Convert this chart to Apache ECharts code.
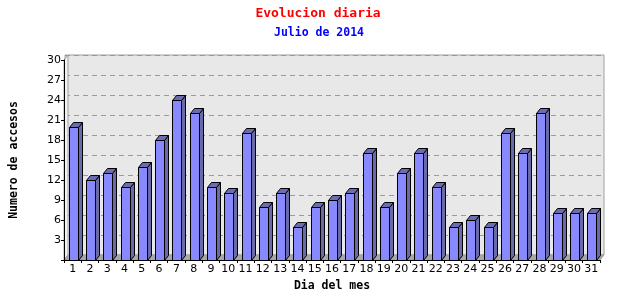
<!DOCTYPE html>
<html>
<head>
<meta charset="utf-8">
<script src="https://cdn.jsdelivr.net/npm/echarts@6/dist/echarts.min.js"></script>
<style>html,body{margin:0;padding:0;background:#fff;}#c{width:640px;height:300px;}</style>
</head>
<body>
<div id="c"></div>
<script>
const titleText = "Evolucion diaria";
const subtitleText = "Julio de 2014";
const days = ["1","2","3","4","5","6","7","8","9","10","11","12","13","14","15","16","17","18","19","20","21","22","23","24","25","26","27","28","29","30","31"];
const accesos = [20,12,13,11,14,18,24,22,11,10,19,8,10,5,8,9,10,16,8,13,16,11,5,6,5,19,16,22,7,7,7];
const yMin = 0, yMax = 30, yStep = 3;

const DX = 4, DY = 5;
const chart = echarts.init(document.getElementById('c'), null, {renderer: 'canvas'});
const mono = "'DejaVu Sans Mono', monospace";

function px(v){ return Math.round(v) + 0.5; }

const option = {
  backgroundColor: '#ffffff',
  animation: false,
  title: [
    {text: titleText, left: 313, top: 2, textAlign: 'center',
     textStyle: {color: '#ff0000', fontFamily: mono, fontSize: 13, fontWeight: 'bold'}},
    {text: subtitleText, left: 314, top: 22, textAlign: 'center',
     textStyle: {color: '#0000ff', fontFamily: mono, fontSize: 11.5, fontWeight: 'bold'}}
  ],
  grid: [
    {left: 61, right: 40, top: 60, bottom: 40, containLabel: false},
    {left: 61 + DX, right: 40 - DX, top: 60 - DY, bottom: 40 + DY, show: true,
     backgroundColor: '#e8e8e8', borderColor: '#a0a0a0', borderWidth: 1, z: 0}
  ],
  xAxis: [
    {type: 'category', data: days, gridIndex: 0,
     name: 'Dia del mes', nameLocation: 'middle', nameGap: 14,
     nameTextStyle: {fontFamily: mono, fontSize: 11.5, fontWeight: 'bold', color: '#000'},
     axisLine: {lineStyle: {color: '#000', width: 1}},
     axisTick: {show: true, length: 3, lineStyle: {color: '#000'}},
     axisLabel: {color: '#000', fontFamily: "'DejaVu Sans', sans-serif", fontSize: 11, margin: 4, interval: 0},
     splitLine: {show: false}, z: 10},
    {type: 'category', data: days, gridIndex: 1, show: false}
  ],
  yAxis: [
    {type: 'value', min: yMin, max: yMax, interval: yStep, gridIndex: 0,
     name: 'Numero de accesos', nameLocation: 'middle', nameGap: 44, nameRotate: 90,
     nameTextStyle: {fontFamily: mono, fontSize: 11.5, fontWeight: 'bold', color: '#000'},
     axisLine: {show: true, lineStyle: {color: '#000', width: 1}},
     axisTick: {show: true, length: 3, lineStyle: {color: '#000'}},
     axisLabel: {color: '#000', fontFamily: "'DejaVu Sans', sans-serif", fontSize: 11, margin: 3,
       formatter: v => v === 0 ? '' : String(v)},
     splitLine: {show: false}, z: 10},
    {type: 'value', min: yMin, max: yMax, interval: yStep, gridIndex: 1,
     axisLine: {show: false}, axisTick: {show: false}, axisLabel: {show: false},
     splitLine: {show: true, lineStyle: {color: '#999', type: [5, 4], width: 1}}}
  ],
  series: [
    {
      type: 'custom', xAxisIndex: 0, yAxisIndex: 0, z: 1, silent: true,
      data: [[0, yMax]],
      renderItem: function (params, api) {
        const b0 = api.coord([0, 0]);
        const cw = api.size([1, 0])[0];
        const x0 = b0[0] - cw / 2;
        const x1 = b0[0] - cw / 2 + cw * days.length;
        const yb = b0[1];
        const yt = api.coord([0, yMax])[1];
        return {type: 'group', children: [
          {type: 'polygon', shape: {points: [[x0, yb], [x0, yt], [x0 + DX, yt - DY], [x0 + DX, yb - DY]]},
           style: {fill: '#f2f2f2', stroke: '#a0a0a0', lineWidth: 1}},
          {type: 'polygon', shape: {points: [[x0, yb], [x1, yb], [x1 + DX, yb - DY], [x0 + DX, yb - DY]]},
           style: {fill: '#a8a8a8', stroke: '#a0a0a0', lineWidth: 1}}
        ]};
      }
    },
    {
      type: 'custom', name: 'Accesos', xAxisIndex: 0, yAxisIndex: 0, z: 5,
      data: accesos.map((v, i) => [i, v]),
      renderItem: function (params, api) {
        const t = api.coord([api.value(0), api.value(1)]);
        const b = api.coord([api.value(0), 0]);
        const cw = api.size([1, 0])[0];
        const l = px(t[0] - cw * 0.23);
        const w = Math.round(cw * 0.5);
        const r = l + w;
        const yt = px(t[1]);
        const yb = px(b[1]);
        const line = {stroke: '#000', lineWidth: 1};
        return {type: 'group', children: [
          {type: 'polygon', shape: {points: [[r, yt], [r + DX, yt - DY], [r + DX, yb - DY], [r, yb]]},
           style: Object.assign({fill: '#6a6aa8'}, line)},
          {type: 'polygon', shape: {points: [[l, yt], [l + DX, yt - DY], [r + DX, yt - DY], [r, yt]]},
           style: Object.assign({fill: '#6c6cb0'}, line)},
          {type: 'rect', shape: {x: l, y: yt, width: w, height: yb - yt},
           style: Object.assign({fill: '#8888ff'}, line)}
        ]};
      }
    }
  ]
};
chart.setOption(option);
</script>
</body>
</html>
